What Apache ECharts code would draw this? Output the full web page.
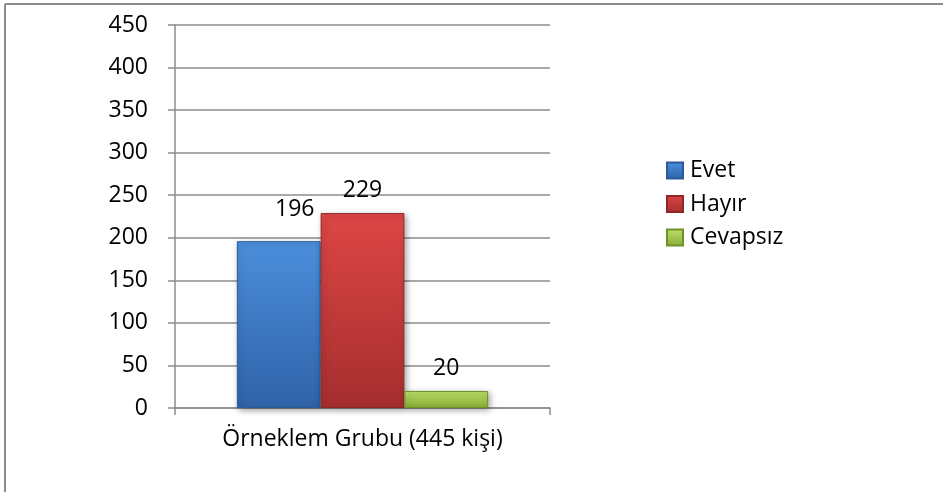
<!DOCTYPE html>
<html>
<head>
<meta charset="utf-8">
<script src="https://cdn.jsdelivr.net/npm/echarts@6/dist/echarts.min.js"></script>
<style>
  html, body { margin: 0; padding: 0; background: #fff; }
  #chart { width: 943px; height: 492px; }
</style>
</head>
<body>
<div id="chart"></div>
<script>
var categories = ['Örneklem Grubu (445 kişi)'];
var seriesNames = ['Evet', 'Hayır', 'Cevapsız'];
var evetValues = [196];
var hayirValues = [229];
var cevapsizValues = [20];
var yTicks = { min: 0, max: 450, interval: 50 };

var FONT = '"Open Sans", "Noto Sans", sans-serif';
var FS = 23;

function grad(top, bottom) {
  return new echarts.graphic.LinearGradient(0, 0, 0, 1, [
    { offset: 0, color: top },
    { offset: 1, color: bottom }
  ]);
}

function barSeries(name, data, c1, c2, border, labelOffset) {
  return {
    name: name,
    type: 'bar',
    data: data,
    barGap: '0%',
    barCategoryGap: '33%',
    itemStyle: {
      color: grad(c1, c2),
      borderColor: border,
      borderWidth: 1,
      shadowColor: 'rgba(0,0,0,0.35)',
      shadowBlur: 6,
      shadowOffsetX: 2,
      shadowOffsetY: 2
    },
    label: {
      show: true,
      position: 'top',
      distance: 11,
      offset: labelOffset,
      color: '#000',
      fontSize: FS,
      fontFamily: FONT
    }
  };
}

var chart = echarts.init(document.getElementById('chart'));
chart.setOption({
  backgroundColor: '#fff',
  animation: false,
  textStyle: { fontFamily: FONT },
  grid: { left: 175, right: 393, top: 25, bottom: 84 },
  graphic: [
    { type: 'line', shape: { x1: 5, y1: 4, x2: 943, y2: 4 }, style: { stroke: '#8c8c8c', lineWidth: 2 } },
    { type: 'line', shape: { x1: 5, y1: 4, x2: 5, y2: 492 }, style: { stroke: '#8c8c8c', lineWidth: 2 } }
  ],
  legend: {
    orient: 'vertical',
    left: 661,
    top: 154,
    itemWidth: 16,
    itemHeight: 16,
    itemGap: 10.5,
    icon: 'rect',
    textStyle: { fontSize: FS, color: '#000', fontFamily: FONT, padding: [0, 0, 0, 2] },
    data: seriesNames
  },
  xAxis: {
    type: 'category',
    data: categories,
    axisLine: { lineStyle: { color: '#8c8c8c', width: 1.5 } },
    axisTick: { show: true, length: 7, lineStyle: { color: '#8c8c8c', width: 1.5 } },
    axisLabel: { color: '#000', fontSize: FS, margin: 20, fontFamily: FONT }
  },
  yAxis: {
    type: 'value',
    min: yTicks.min,
    max: yTicks.max,
    interval: yTicks.interval,
    axisLine: { show: true, lineStyle: { color: '#8c8c8c', width: 1.5 } },
    axisTick: { show: true, length: 7, lineStyle: { color: '#8c8c8c', width: 1.5 } },
    splitLine: { lineStyle: { color: '#8c8c8c', width: 1.5 } },
    axisLabel: { color: '#000', fontSize: FS, margin: 27, fontFamily: FONT }
  },
  series: [
    barSeries(seriesNames[0], evetValues, '#4c8fdc', '#2f62a8', '#2a5a9a', [16, -9]),
    barSeries(seriesNames[1], hayirValues, '#de4646', '#a52e2e', '#8f2727', [0, 0]),
    barSeries(seriesNames[2], cevapsizValues, '#bde06c', '#86ad34', '#6f9128', [0, 0])
  ]
});
</script>
</body>
</html>
